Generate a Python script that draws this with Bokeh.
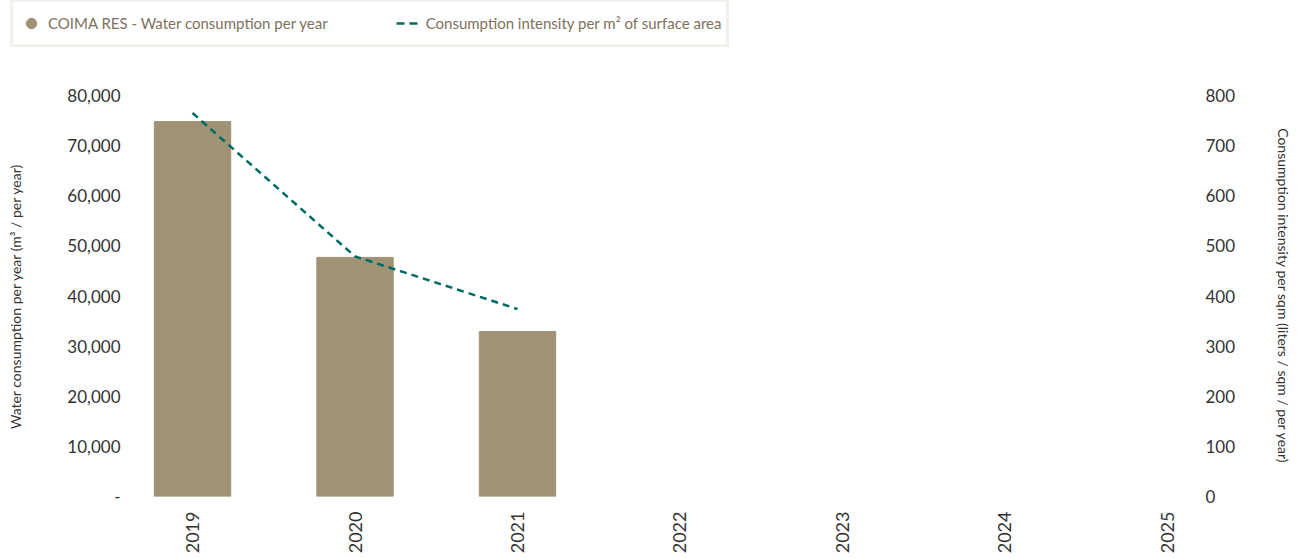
import math
from bokeh.plotting import figure
from bokeh.models import (Range1d, LinearAxis, FixedTicker, Legend, LegendItem,
                          ColumnDataSource, NumeralTickFormatter)
from bokeh.embed import file_html
from bokeh.resources import INLINE

# ---- data ----
years = ["2019", "2020", "2021", "2022", "2023", "2024", "2025"]
data_years = ["2019", "2020", "2021"]
water = [74800, 47700, 32900]          # m3 per year
intensity = [765, 479, 374]            # liters / sqm / per year
left_ticks = [0, 10000, 20000, 30000, 40000, 50000, 60000, 70000, 80000]
right_ticks = [0, 100, 200, 300, 400, 500, 600, 700, 800]
legend_labels = ["COIMA RES - Water consumption per year",
                 "Consumption intensity per m² of surface area"]

bar_color = "#A09274"
line_color = "#006B63"
text_color = "#333333"
legend_text_color = "#7E715C"
FONT = "Lato"

pos = {y: i for i, y in enumerate(years)}
xs = [pos[y] for y in data_years]
src = ColumnDataSource(dict(x=xs, water=water, intensity=intensity))

# ---- legend strip ----
LEG_H = 50
lf = figure(width=1298, height=LEG_H, output_backend="svg", toolbar_location=None,
            x_range=Range1d(0, 1), y_range=Range1d(0, 1),
            x_axis_location=None, y_axis_location=None,
            min_border=0, min_border_left=0, min_border_right=0,
            min_border_top=0, min_border_bottom=0)
lf.grid.visible = False
lf.outline_line_color = None
# legend swatches: drawn off-range so only their legend glyphs show
d_circle = lf.scatter(x=[-10], y=[-10], marker="circle", size=13, color=bar_color)
d_line = lf.line(x=[-10, -9], y=[-10, -10], line_color=line_color, line_width=2.5,
                 line_dash="8 5")
legend = Legend(items=[
    LegendItem(label=legend_labels[0], renderers=[d_circle]),
    LegendItem(label=legend_labels[1], renderers=[d_line]),
], orientation="horizontal", location=(10, 3), margin=0,
    padding=5, spacing=68, glyph_width=26, glyph_height=32, label_standoff=4,
    label_text_font=FONT, label_text_font_size="15px", label_text_color=legend_text_color,
    border_line_color="#E7E1D7", border_line_width=3,
    background_fill_color="white", background_fill_alpha=1.0)
lf.add_layout(legend)

# ---- main chart ----
p = figure(width=1298, height=558 - LEG_H, output_backend="svg", toolbar_location=None,
           x_range=Range1d(-0.394, 6.185), y_range=Range1d(0, 80000),
           min_border_left=128, min_border_right=101, min_border_top=95 - LEG_H,
           min_border_bottom=62)
p.extra_y_ranges = {"right": Range1d(0, 800)}
p.outline_line_color = None
p.grid.visible = False
p.background_fill_color = "white"

p.vbar(x="x", top="water", width=0.47, source=src, color=bar_color)
p.line(x="x", y="intensity", source=src, y_range_name="right",
       line_color=line_color, line_width=2.5, line_dash="7 5")

right_axis = LinearAxis(y_range_name="right")
p.add_layout(right_axis, "right")

for ax in [p.xaxis[0], p.yaxis[0], right_axis]:
    ax.axis_line_color = None
    ax.major_tick_line_color = None
    ax.minor_tick_line_color = None
    ax.major_tick_out = 0
    ax.major_tick_in = 0
    ax.major_label_text_font = FONT
    ax.major_label_text_color = text_color
    ax.major_label_text_font_size = "17px"
    ax.axis_label_text_font = FONT
    ax.axis_label_text_color = text_color
    ax.axis_label_text_font_size = "14px"
    ax.axis_label_text_font_style = "normal"

xa = p.xaxis[0]
xa.ticker = FixedTicker(ticks=list(range(len(years))))
xa.major_label_overrides = {i: y for i, y in enumerate(years)}
xa.major_label_orientation = math.pi / 2
xa.major_label_standoff = 15
xa.major_label_text_font_size = "18px"

ya = p.yaxis[0]
ya.ticker = FixedTicker(ticks=left_ticks)
ya.formatter = NumeralTickFormatter(format="0,0")
ya.major_label_overrides = {0: "-"}
ya.major_label_standoff = 8
ya.axis_label = "Water consumption per year (m³ / per year)"
ya.axis_label_standoff = 40

right_axis.ticker = FixedTicker(ticks=right_ticks)
right_axis.major_label_standoff = 8
right_axis.axis_label = "Consumption intensity per sqm (liters / sqm / per year)"
right_axis.axis_label_standoff = 37

open("out.html", "w").write(file_html([lf, p], INLINE))
